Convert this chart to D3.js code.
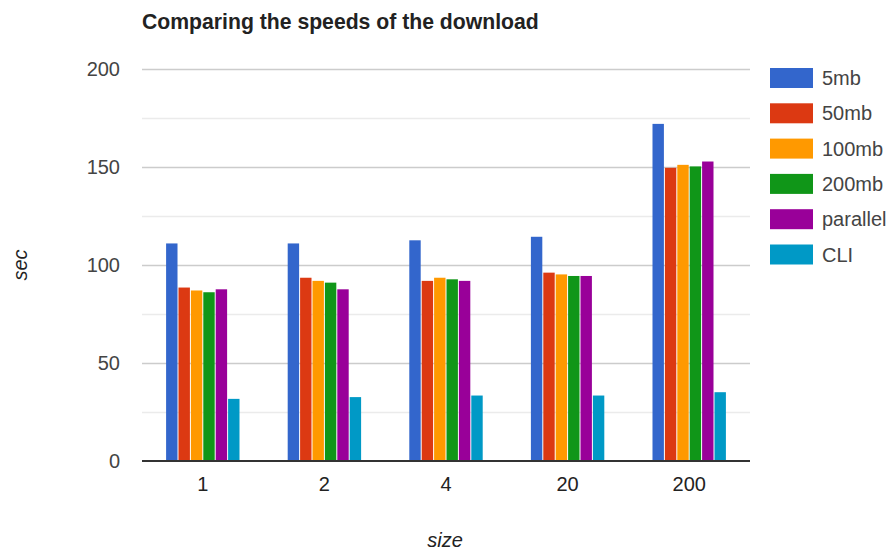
<!DOCTYPE html>
<html>
<head>
<meta charset="utf-8">
<script src="https://cdn.jsdelivr.net/npm/d3@7"></script>
<style>
  html, body { margin: 0; padding: 0; background: #fff; }
  svg { display: block; font-family: "Liberation Sans", Arial, sans-serif; }
</style>
</head>
<body>
<svg id="chart" width="891" height="551"></svg>
<script>
// Download time (sec) per file size, one series per download method
const sizes = ["1", "2", "4", "20", "200"];
const seriesNames = ["5mb", "50mb", "100mb", "200mb", "parallel", "CLI"];
const s5mb     = [111, 111, 112.6, 114.4, 172];
const s50mb    = [88.5, 93.5, 91.9, 96.1, 149.6];
const s100mb   = [87, 91.9, 93.5, 95.2, 151.1];
const s200mb   = [86.1, 91, 92.7, 94.4, 150.3];
const sParallel = [87.6, 87.6, 91.9, 94.4, 152.8];
const sCLI     = [31.7, 32.6, 33.4, 33.4, 35.1];
const yTicks = [0, 50, 100, 150, 200];
const yMinor = [25, 75, 125, 175];

const seriesValues = [s5mb, s50mb, s100mb, s200mb, sParallel, sCLI];
const colors = ["#3366cc", "#dc3912", "#ff9900", "#109618", "#990099", "#0099c6"];

const svg = d3.select("#chart");
const plot = { left: 142, right: 750, top: 69, bottom: 461 };
const FONT = "Liberation Sans, Arial, sans-serif";

const x0 = d3.scaleBand().domain(sizes).range([plot.left, plot.right]).paddingInner(0.38).paddingOuter(0.19);
const x1 = d3.scaleBand().domain(seriesNames).range([0, x0.bandwidth()]).padding(0.08);
const y = d3.scaleLinear().domain([0, 200]).range([plot.bottom, plot.top]);
const color = d3.scaleOrdinal().domain(seriesNames).range(colors);

// Title
svg.append("text")
  .attr("x", plot.left).attr("y", 29)
  .attr("font-size", 21.2).attr("font-weight", "bold").attr("fill", "#222")
  .text("Comparing the speeds of the download");

// Gridlines
svg.append("g").selectAll("line").data(yMinor).join("line")
  .attr("x1", plot.left).attr("x2", plot.right)
  .attr("y1", d => y(d) + 0.5).attr("y2", d => y(d) + 0.5)
  .attr("stroke", "#ebebeb").attr("stroke-width", 1.5);
svg.append("g").selectAll("line").data(yTicks.filter(d => d > 0)).join("line")
  .attr("x1", plot.left).attr("x2", plot.right)
  .attr("y1", d => y(d) + 0.5).attr("y2", d => y(d) + 0.5)
  .attr("stroke", "#cccccc").attr("stroke-width", 1.5);

// Y axis labels
const yAxis = d3.axisLeft(y).tickValues(yTicks).tickSize(0).tickPadding(22);
svg.append("g").attr("transform", `translate(${plot.left},0)`).call(yAxis)
  .call(g => g.select(".domain").remove())
  .call(g => g.selectAll("text").attr("font-size", 20).attr("fill", "#444")
    .attr("font-family", FONT));

// Bars
const groups = svg.append("g").selectAll("g").data(sizes).join("g")
  .attr("transform", d => `translate(${x0(d)},0)`);
groups.selectAll("rect")
  .data((d, i) => seriesNames.map((name, k) => ({ name, value: seriesValues[k][i] })))
  .join("rect")
  .attr("x", d => x1(d.name))
  .attr("width", x1.bandwidth())
  .attr("y", d => y(d.value))
  .attr("height", d => y(0) - y(d.value))
  .attr("fill", d => color(d.name));

// Baseline and X axis labels
const xAxis = d3.axisBottom(x0).tickSize(0).tickPadding(16);
svg.append("g").attr("transform", `translate(0,${plot.bottom})`).call(xAxis)
  .call(g => g.select(".domain").attr("stroke", "#333").attr("stroke-width", 2)
    .attr("d", `M${plot.left},0H${plot.right}`))
  .call(g => g.selectAll("text").attr("font-size", 20).attr("fill", "#222")
    .attr("font-family", FONT));

// Axis titles
svg.append("text")
  .attr("x", 445).attr("y", 547)
  .attr("text-anchor", "middle").attr("font-size", 20).attr("font-style", "italic").attr("fill", "#222")
  .text("size");
svg.append("text")
  .attr("transform", `translate(27,265) rotate(-90)`)
  .attr("text-anchor", "middle").attr("font-size", 20).attr("font-style", "italic").attr("fill", "#222")
  .text("sec");

// Legend
const legend = svg.append("g").selectAll("g").data(seriesNames).join("g")
  .attr("transform", (d, i) => `translate(770,${68 + i * 35.3})`);
legend.append("rect").attr("width", 43).attr("height", 20).attr("fill", d => color(d));
legend.append("text").attr("x", 52).attr("y", 17)
  .attr("font-size", 20).attr("fill", "#444").text(d => d);
</script>
</body>
</html>
